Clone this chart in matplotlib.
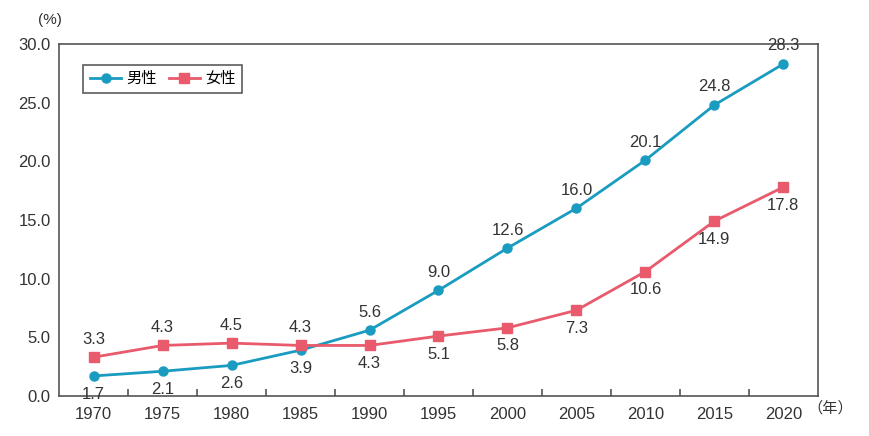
import matplotlib

matplotlib.use("Agg")
import matplotlib.pyplot as plt

plt.rcParams["font.family"] = ["Liberation Sans", "Noto Sans CJK JP", "DejaVu Sans"]

years = [1970, 1975, 1980, 1985, 1990, 1995, 2000, 2005, 2010, 2015, 2020]
male = [1.7, 2.1, 2.6, 3.9, 5.6, 9.0, 12.6, 16.0, 20.1, 24.8, 28.3]
female = [3.3, 4.3, 4.5, 4.3, 4.3, 5.1, 5.8, 7.3, 10.6, 14.9, 17.8]
# label side per point: +1 above, -1 below
male_side = [-1, -1, -1, -1, 1, 1, 1, 1, 1, 1, 1]
female_side = [1, 1, 1, 1, -1, -1, -1, -1, -1, -1, -1]

BLUE = "#1a9bc0"
RED = "#e85a6c"
TXT = "#333333"

fig = plt.figure(figsize=(8.7, 4.36), dpi=100)
ax = fig.add_axes([0.068, 0.092, 0.872, 0.807])

ax.plot(years, male, color=BLUE, lw=2, marker="o", ms=6.5, label="男性")
ax.plot(years, female, color=RED, lw=2, marker="s", ms=7, label="女性")

for x, y, s in zip(years, male, male_side):
    ax.annotate(f"{y:.1f}", (x, y), xytext=(0, 13 * s), textcoords="offset points",
                ha="center", va="center", fontsize=12, color=TXT)
for x, y, s in zip(years, female, female_side):
    ax.annotate(f"{y:.1f}", (x, y), xytext=(0, 13 * s), textcoords="offset points",
                ha="center", va="center", fontsize=12, color=TXT)

ax.set_xlim(1967.5, 2022.5)
ax.set_ylim(0, 30)
ax.set_xticks(years)
ax.set_xticks([y + 2.5 for y in years[:-1]], minor=True)
ax.set_yticks([0, 5, 10, 15, 20, 25, 30])
ax.set_yticklabels([f"{v:.1f}" for v in [0, 5, 10, 15, 20, 25, 30]])
ax.tick_params(axis="x", which="major", length=0, pad=8, labelsize=12, labelcolor=TXT)
ax.tick_params(axis="x", which="minor", direction="in", length=5, width=1.2, color="#555555")
ax.tick_params(axis="y", length=0, pad=6, labelsize=12, labelcolor=TXT)
for sp in ax.spines.values():
    sp.set_color("#555555")
    sp.set_linewidth(1.2)

fig.text(0.044, 0.955, "(%)", fontsize=11, color=TXT, ha="left", va="center")
fig.text(0.928, 0.064, "（年）", fontsize=11, color=TXT, ha="left", va="center")

leg = ax.legend(loc="upper left", bbox_to_anchor=(0.022, 0.963), ncol=2, frameon=True,
                fancybox=False, edgecolor="#333333", fontsize=11, handlelength=2.0,
                columnspacing=0.8, borderpad=0.45, handletextpad=0.35)
leg.get_frame().set_linewidth(1.2)

fig.savefig("out.png", dpi=100)
